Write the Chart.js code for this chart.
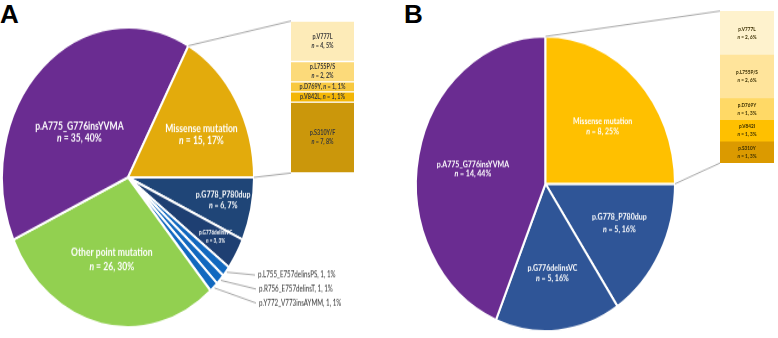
<!DOCTYPE html>
<html>
<head>
<meta charset="utf-8">
<script src="https://cdn.jsdelivr.net/npm/chart.js@4.4.0/dist/chart.umd.min.js"></script>
<style>
    body { margin: 0; background: #fff; width: 778px; height: 338px; overflow: hidden; position: relative; }
    canvas { position: absolute; }
    .letter { position: absolute; font: bold 26px 'Liberation Sans', Arial, sans-serif; line-height: 26px; color: #000; }
</style>
</head>
<body>
<div class="letter" style="left:0;top:1px">A</div>
<div class="letter" style="left:404px;top:1px">B</div>
<canvas id="pieA" width="390" height="284" style="left:0;top:0;width:390px;height:338px"></canvas>
<canvas id="barA" width="63" height="152" style="left:291px;top:21px;width:63px;height:152px"></canvas>
<canvas id="pieB" width="388" height="297" style="left:390px;top:0;width:388px;height:338px"></canvas>
<canvas id="barB" width="54" height="152" style="left:720px;top:11px;width:54px;height:152px"></canvas>
<script>
// 面板A：饼图数据（从3点钟方向顺时针）
const aSlices = ['p.G778_P780dup', 'p.G776delinsVC', 'p.L755_E757delinsPS', 'p.R756_E757delinsT',
                 'p.Y772_V773insAYMM', 'Other point mutation', 'p.A775_G776insYVMA', 'Missense mutation'];
const aCounts = [6, 3, 1, 1, 1, 26, 35, 15];
const aPercents = [7, 3, 1, 1, 1, 30, 40, 17];
const aColors = ['#1F4577', '#1E3F72', '#1168BF', '#1168BF', '#1168BF', '#92D050', '#6A2C91', '#E3AB0C'];

// 面板A：Missense 细分柱（从上到下）
const aBarNames = ['p.V777L', 'p.L755P/S', 'p.D769Y', 'p.V842L', 'p.S310Y/F'];
const aBarCounts = [4, 2, 1, 1, 7];
const aBarPercents = [5, 2, 1, 1, 8];
const aBarColors = ['#FDEBB8', '#FCDA7A', '#F8C940', '#F3B606', '#CB970B'];

// 面板B：饼图数据
const bSlices = ['p.G778_P780dup', 'p.G776delinsVC', 'p.A775_G776insYVMA', 'Missense mutation'];
const bCounts = [5, 5, 14, 8];
const bPercents = [16, 16, 44, 25];
const bColors = ['#2F5597', '#2F5597', '#6A2C91', '#FFC000'];

// 面板B：Missense 细分柱
const bBarNames = ['p.V777L', 'p.L755P/S', 'p.D769Y', 'p.V842I', 'p.S310Y'];
const bBarCounts = [2, 2, 1, 1, 1];
const bBarPercents = [6, 6, 3, 3, 3];
const bBarColors = ['#FEF2CD', '#FFE49B', '#FFD966', '#FFC000', '#DB9A00'];

const FONT = "Lato, 'Open Sans', sans-serif";
const CONDENSE = 0.78; // 原图字体较窄

/**
 * 绘制一行文字（支持斜体片段），居中或左对齐
 */
function drawParts(ctx, parts, x, y, size, weight, color, align) {
    const fonts = parts.map(p => (p.i ? 'italic ' : '') + weight + ' ' + size + 'px ' + FONT);
    const widths = parts.map((p, k) => { ctx.font = fonts[k]; return ctx.measureText(p.t).width; });
    const total = widths.reduce((a, b) => a + b, 0);
    ctx.save();
    ctx.translate(x, y);
    ctx.scale(CONDENSE, 1);
    let cx = align === 'left' ? 0 : -total / 2;
    ctx.fillStyle = color;
    ctx.textBaseline = 'middle';
    ctx.textAlign = 'left';
    parts.forEach((p, k) => {
        ctx.font = fonts[k];
        ctx.fillText(p.t, cx, 0);
        cx += widths[k];
    });
    ctx.restore();
}

function nParts(n, pct) {
    return [{ t: 'n', i: true }, { t: ' = ' + n + ', ' + pct + '%' }];
}

// 饼图标签插件
const pieText = {
    id: 'pieText',
    afterDatasetsDraw(chart, args, opts) {
        const ctx = chart.ctx;
        const s = chart.canvas.clientHeight / chart.height;
        const arcs = chart.getDatasetMeta(0).data;
        const names = chart.data.labels;
        const counts = chart.data.datasets[0].data;
        arcs.forEach((arc, i) => {
            const st = opts.styles[i];
            const R = arc.outerRadius;
            const mid = (arc.startAngle + arc.endAngle) / 2;
            ctx.save();
            if (st.out) {
                // 外部标签 + 引线
                const ex = arc.x + Math.cos(mid) * (R + 1);
                const ey = arc.y + Math.sin(mid) * (R + 1);
                ctx.strokeStyle = '#A6A6A6';
                ctx.lineWidth = 1;
                ctx.beginPath();
                ctx.moveTo(ex, ey);
                ctx.lineTo(st.lx - 3, st.ly / s);
                ctx.stroke();
                ctx.translate(st.lx, st.ly / s);
                ctx.scale(1, 1 / s);
                drawParts(ctx, [{ t: names[i] + ', ' + counts[i] + ', ' + opts.pcts[i] + '%' }], 0, 0,
                          st.size, 'normal', '#333', 'left');
            } else {
                const a = mid + st.da * Math.PI / 180;
                const x = arc.x + Math.cos(a) * R * st.r;
                const y = arc.y + Math.sin(a) * R * st.r;
                ctx.translate(x, y);
                ctx.scale(1, 1 / s);
                drawParts(ctx, [{ t: names[i] }], 0, -st.gap / 2, st.size, st.weight, '#fff');
                drawParts(ctx, nParts(counts[i], opts.pcts[i]), 0, st.gap / 2, st.size, st.weight, '#fff');
            }
            ctx.restore();
        });
    }
};

// 饼图到细分柱的连接线
const zoomLines = {
    id: 'zoomLines',
    afterDatasetsDraw(chart, args, opts) {
        const bar = Chart.getChart(opts.barId);
        if (!bar) return;
        const s = chart.canvas.clientHeight / chart.height;
        const n = bar.data.datasets.length;
        const first = bar.getDatasetMeta(0).data[0];
        const last = bar.getDatasetMeta(n - 1).data[0];
        const left = bar.canvas.offsetLeft + first.x - first.width / 2 - chart.canvas.offsetLeft;
        const top = bar.canvas.offsetTop + Math.min(first.y, first.base) - chart.canvas.offsetTop;
        const bottom = bar.canvas.offsetTop + Math.max(last.y, last.base) - chart.canvas.offsetTop;
        const arc = chart.getDatasetMeta(0).data[opts.index];
        const R = arc.outerRadius;
        const ctx = chart.ctx;
        ctx.save();
        ctx.strokeStyle = '#A6A6A6';
        ctx.lineWidth = 1;
        ctx.beginPath();
        ctx.moveTo(arc.x + Math.cos(arc.startAngle) * R, arc.y + Math.sin(arc.startAngle) * R);
        ctx.lineTo(left, top / s);
        ctx.moveTo(arc.x + Math.cos(arc.endAngle) * R, arc.y + Math.sin(arc.endAngle) * R);
        ctx.lineTo(left, bottom / s);
        ctx.stroke();
        ctx.restore();
    }
};

// 细分柱标签插件
const barText = {
    id: 'barText',
    afterDatasetsDraw(chart, args, opts) {
        const ctx = chart.ctx;
        chart.data.datasets.forEach((ds, k) => {
            const el = chart.getDatasetMeta(k).data[0];
            const cy = (el.y + el.base) / 2;
            const h = Math.abs(el.base - el.y);
            const name = ds.label;
            const c = ds.data[0];
            const p = opts.pcts[k];
            if (h < opts.twoLineMin) {
                drawParts(ctx, [{ t: name + ', ' }].concat(nParts(c, p)), el.x, cy, opts.size, opts.weight, opts.color);
            } else {
                drawParts(ctx, [{ t: name }], el.x, cy - opts.gap / 2, opts.size, opts.weight, opts.color);
                drawParts(ctx, nParts(c, p), el.x, cy + opts.gap / 2, opts.size, opts.weight, opts.color);
            }
        });
    }
};

function makeBar(id, names, counts, pcts, colors, sep, textOpts) {
    const total = counts.reduce((a, b) => a + b, 0);
    return new Chart(document.getElementById(id), {
        type: 'bar',
        data: {
            labels: [''],
            datasets: names.map((name, k) => ({
                label: name,
                data: [counts[k]],
                backgroundColor: colors[k],
                borderColor: '#fff',
                borderWidth: { top: sep, bottom: sep, left: 0, right: 0 },
                borderSkipped: false,
                barPercentage: 1,
                categoryPercentage: 1
            }))
        },
        options: {
            responsive: false,
            animation: false,
            events: [],
            layout: { padding: 0 },
            scales: {
                x: { display: false, stacked: true },
                y: { display: false, stacked: true, reverse: true, min: 0, max: total }
            },
            plugins: {
                legend: { display: false },
                tooltip: { enabled: false },
                barText: Object.assign({ pcts: pcts }, textOpts)
            }
        },
        plugins: [barText]
    });
}

function makePie(id, labels, counts, pcts, colors, padding, styles, barId, zoomIndex) {
    return new Chart(document.getElementById(id), {
        type: 'pie',
        data: {
            labels: labels,
            datasets: [{ data: counts, backgroundColor: colors, borderColor: '#fff', borderWidth: 2 }]
        },
        options: {
            responsive: false,
            animation: false,
            events: [],
            rotation: 90,
            layout: { padding: padding },
            plugins: {
                legend: { display: false },
                tooltip: { enabled: false },
                pieText: { styles: styles, pcts: pcts },
                zoomLines: { barId: barId, index: zoomIndex }
            }
        },
        plugins: [pieText, zoomLines]
    });
}

// 先画细分柱，连接线需要它的位置
makeBar('barA', aBarNames, aBarCounts, aBarPercents, aBarColors, 1,
        { size: 7, weight: 'bold', color: '#3A3A3A', gap: 9, twoLineMin: 15 });
makeBar('barB', bBarNames, bBarCounts, bBarPercents, bBarColors, 0,
        { size: 6, weight: 'bold', color: '#3A2E00', gap: 8, twoLineMin: 15 });

makePie('pieA', aSlices, aCounts, aPercents, aColors,
        { left: 1, right: 135, top: 22, bottom: 8 },
        [
            { r: 0.77, da: -1, size: 9, weight: 'bold', gap: 10 },
            { r: 0.80, da: -1, size: 6, weight: 'bold', gap: 8 },
            { out: true, lx: 258, ly: 275, size: 8 },
            { out: true, lx: 259, ly: 289, size: 8 },
            { out: true, lx: 259, ly: 303, size: 8 },
            { r: 0.56, da: 1, size: 11, weight: 'bold', gap: 14 },
            { r: 0.49, da: -9, size: 11, weight: 'bold', gap: 12 },
            { r: 0.65, da: 4.5, size: 11, weight: 'bold', gap: 12 }
        ], 'barA', 7);

makePie('pieB', bSlices, bCounts, bPercents, bColors,
        { left: 25, right: 102, top: 31, bottom: 5 },
        [
            { r: 0.63, da: -3, size: 9, weight: 'bold', gap: 12 },
            { r: 0.61, da: 0.6, size: 9, weight: 'bold', gap: 10 },
            { r: 0.57, da: -1, size: 9, weight: 'bold', gap: 10 },
            { r: 0.59, da: 3.4, size: 9, weight: 'bold', gap: 10 }
        ], 'barB', 3);
</script>
</body>
</html>
